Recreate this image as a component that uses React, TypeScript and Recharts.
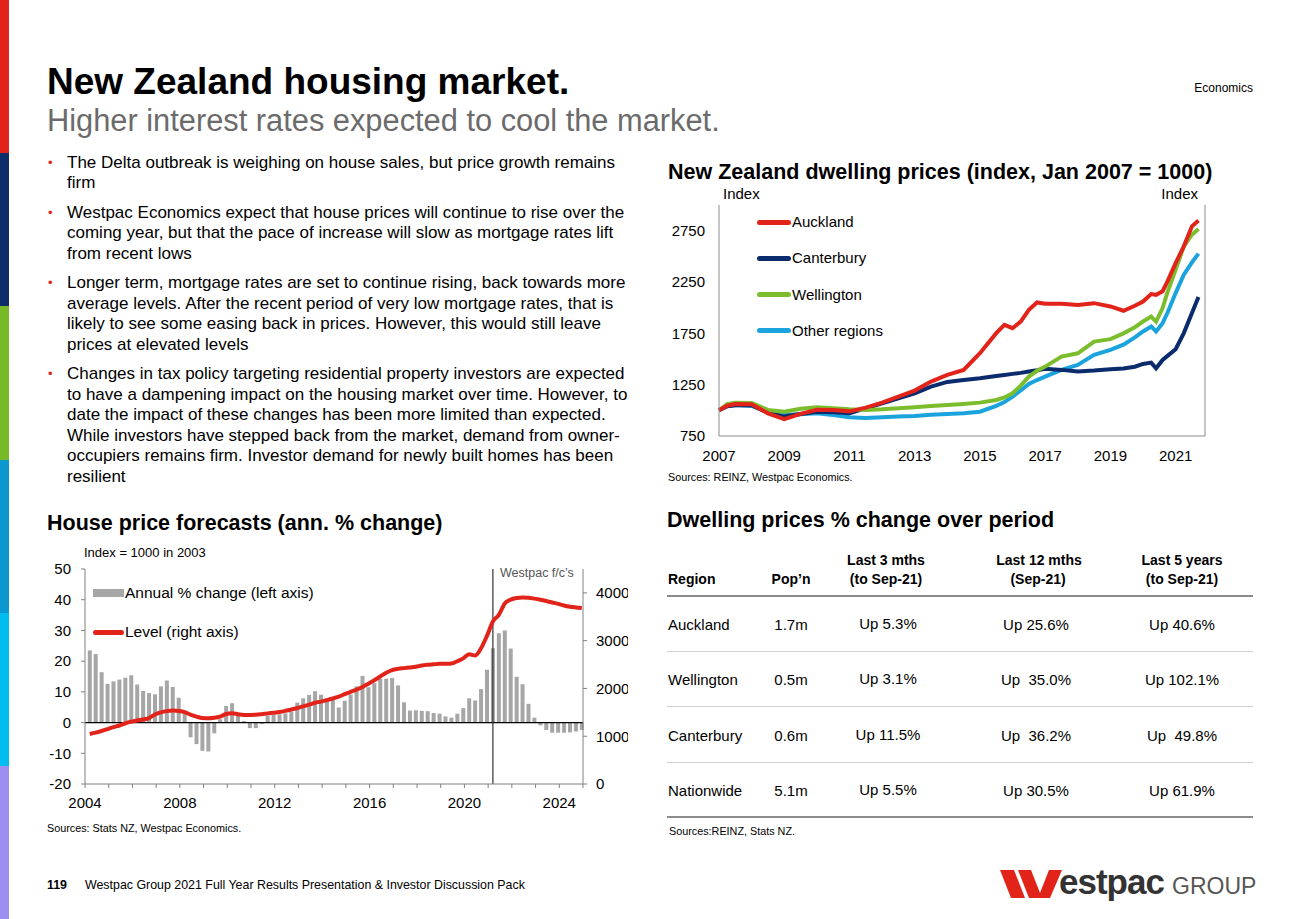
import React from 'react';
import { ComposedChart, LineChart, Line, Bar, XAxis, YAxis, ReferenceLine } from 'recharts';

const FONT = '"Liberation Sans", Arial, Helvetica, sans-serif';

// ---- side colour strip ----
const sideBarColors = ['#e2231a', '#0f2c6b', '#78b928', '#0b97cf', '#00bdf0', '#9d8ff0'];

// ---- NZ dwelling prices (index, Jan 2007 = 1000) ----
const dwellingDates = [
  2007, 2007.25, 2007.5, 2008, 2008.5, 2009, 2009.5, 2010, 2010.5, 2011, 2011.5, 2012, 2012.5,
  2013, 2013.5, 2014, 2014.5, 2015, 2015.5, 2015.75, 2016, 2016.25, 2016.5, 2016.75, 2017, 2017.5,
  2018, 2018.5, 2019, 2019.4, 2019.75, 2020, 2020.25, 2020.4, 2020.6, 2020.75, 2021, 2021.25, 2021.5, 2021.7,
];
const auckland = [
  1000, 1045, 1062, 1060, 971, 915, 965, 1005, 1004, 990, 1026, 1075, 1134,
  1192, 1280, 1345, 1394, 1556, 1752, 1833, 1800, 1865, 1979, 2051, 2038, 2038,
  2025, 2044, 2012, 1970, 2018, 2060, 2132, 2125, 2160, 2256, 2434, 2597, 2792, 2850,
];
const canterbury = [
  1000, 1040, 1049, 1049, 975, 939, 965, 985, 981, 971, 1020, 1069, 1117,
  1166, 1231, 1277, 1296, 1312, 1335, 1345, 1355, 1365, 1378, 1390, 1404, 1394,
  1378, 1387, 1400, 1408, 1425, 1452, 1465, 1410, 1491, 1530, 1595, 1752, 1947, 2103,
];
const wellington = [
  1000, 1060, 1075, 1072, 1004, 987, 1015, 1030, 1020, 1010, 1004, 1010, 1020,
  1030, 1043, 1052, 1062, 1075, 1101, 1125, 1166, 1240, 1329, 1385, 1426, 1524,
  1556, 1670, 1693, 1750, 1810, 1865, 1914, 1865, 1996, 2150, 2370, 2597, 2711, 2766,
];
const otherRegions = [
  1000, 1040, 1052, 1043, 987, 955, 963, 971, 955, 932, 926, 932, 939,
  945, 958, 965, 971, 987, 1043, 1080, 1134, 1195, 1257, 1295, 1329, 1394,
  1443, 1540, 1589, 1640, 1710, 1768, 1817, 1768, 1849, 1950, 2142, 2321, 2441, 2526,
];
const dwellingYears = [2007, 2009, 2011, 2013, 2015, 2017, 2019, 2021];
const dwellingLevels = [750, 1250, 1750, 2250, 2750];

const regionSeries = [
  { key: 'auckland', name: 'Auckland', color: '#e2231a' },
  { key: 'canterbury', name: 'Canterbury', color: '#0a2c6d' },
  { key: 'wellington', name: 'Wellington', color: '#7cbd2e' },
  { key: 'other', name: 'Other regions', color: '#1aa3dd' },
];
// drawing order (back to front)
const drawOrder = ['other', 'canterbury', 'wellington', 'auckland'];

const dwellingRows = dwellingDates.map((t, i) => ({
  t,
  auckland: auckland[i],
  canterbury: canterbury[i],
  wellington: wellington[i],
  other: otherRegions[i],
}));

// ---- House price forecasts (quarterly, 2004Q1 - 2024Q4) ----
const annualChange = [
  23.5, 22.3, 16.4, 12.6,
  13.4, 14.0, 14.6, 15.4,
  12.4, 10.3, 9.6, 9.2,
  11.8, 13.7, 11.6, 8.1,
  3.0, -4.8, -7.0, -9.2,
  -9.4, -3.5, 1.1, 5.4,
  6.3, 3.0, 0.5, -1.8,
  -1.8, -0.5, 2.3, 2.5,
  2.7, 3.0, 3.6, 6.5,
  7.9, 9.0, 10.2, 9.1,
  7.9, 7.5, 4.9, 7.1,
  9.1, 11.8, 15.2, 11.5,
  12.8, 14.2, 14.3, 14.5,
  12.1, 6.6, 3.9, 4.0,
  3.8, 3.7, 3.1, 2.9,
  2.0, 1.6, 2.9, 4.7,
  7.9, 7.2, 10.9, 17.2,
  24.2, 29.1, 30.0, 24.1,
  14.9, 12.5, 6.1, 1.6,
  -0.9, -2.4, -3.3, -3.3,
  -3.3, -3.2, -2.9, -2.4,
];
const priceLevel = [
  1048, 1075, 1110, 1150,
  1190, 1225, 1270, 1305,
  1330, 1350, 1380, 1455,
  1500, 1525, 1537, 1528,
  1505, 1450, 1410, 1380,
  1375, 1385, 1411, 1465,
  1480, 1460, 1446, 1446,
  1448, 1460, 1478, 1490,
  1505, 1530, 1560, 1590,
  1625, 1660, 1700, 1725,
  1755, 1790, 1830, 1880,
  1930, 1975, 2030, 2100,
  2170, 2250, 2330, 2385,
  2410, 2425, 2440, 2455,
  2480, 2495, 2505, 2515,
  2515, 2520, 2570, 2630,
  2718, 2690, 2840, 3100,
  3400, 3540, 3780, 3860,
  3895, 3906, 3900, 3880,
  3857, 3830, 3800, 3770,
  3735, 3710, 3695, 3683,
];
const FIRST_YEAR = 2004;
const forecastStart = 2021.2;
const forecastYears = [
  2004, 2005, 2006, 2007, 2008, 2009, 2010, 2011, 2012, 2013, 2014,
  2015, 2016, 2017, 2018, 2019, 2020, 2021, 2022, 2023, 2024, 2025,
];
const labelledYears = [2004, 2008, 2012, 2016, 2020, 2024];
const changeTicks = [-20, -10, 0, 10, 20, 30, 40, 50];
const levelTicks = [0, 1000, 2000, 3000, 4000];

const forecastRows = annualChange.map((change, i) => ({
  t: FIRST_YEAR + i / 4 + 0.2,
  change,
  level: priceLevel[i],
}));

// ---- table ----
const tableRegions = ['Auckland', 'Wellington', 'Canterbury', 'Nationwide'];
const tablePop = ['1.7m', '0.5m', '0.6m', '5.1m'];
const last3 = ['Up 5.3%', 'Up 3.1%', 'Up 11.5%', 'Up 5.5%'];
const last12 = ['Up 25.6%', 'Up  35.0%', 'Up  36.2%', 'Up 30.5%'];
const last5 = ['Up 40.6%', 'Up 102.1%', 'Up  49.8%', 'Up 61.9%'];

const bullets = [
  ['The Delta outbreak is weighing on house sales, but price growth remains', 'firm'],
  [
    'Westpac Economics expect that house prices will continue to rise over the',
    'coming year, but that the pace of increase will slow as mortgage rates lift',
    'from recent lows',
  ],
  [
    'Longer term, mortgage rates are set to continue rising, back towards more',
    'average levels. After the recent period of very low mortgage rates, that is',
    'likely to see some easing back in prices. However, this would still leave',
    'prices at elevated levels',
  ],
  [
    'Changes in tax policy targeting residential property investors are expected',
    'to have a dampening impact on the housing market over time. However, to',
    'date the impact of these changes has been more limited than expected.',
    'While investors have stepped back from the market, demand from owner-',
    'occupiers remains firm. Investor demand for newly built homes has been',
    'resilient',
  ],
];

type TxtProps = {
  x: number;
  cy: number;
  size: number;
  children: React.ReactNode;
  bold?: boolean;
  color?: string;
  align?: 'left' | 'center' | 'right';
  w?: number;
  style?: React.CSSProperties;
};

function Txt({ x, cy, size, children, bold, color = '#000', align = 'left', w = 400, style }: TxtProps) {
  const lh = Math.round(size * 1.2);
  const left = align === 'left' ? x : align === 'center' ? x - w / 2 : x - w;
  return (
    <div
      style={{
        position: 'absolute',
        left,
        top: cy - lh / 2,
        width: w,
        lineHeight: `${lh}px`,
        fontSize: size,
        fontWeight: bold ? 700 : 400,
        color,
        textAlign: align,
        whiteSpace: 'pre',
        ...style,
      }}
    >
      {children}
    </div>
  );
}

function DwellingChart() {
  const axisStroke = '#8c8c8c';
  return (
    <LineChart width={600} height={281} data={dwellingRows} margin={{ top: 20, right: 0, bottom: 0, left: 0 }}>
      <XAxis
        type="number"
        dataKey="t"
        domain={[2007, 2021.9]}
        ticks={dwellingYears}
        interval={0}
        tickLine={false}
        axisLine={{ stroke: axisStroke }}
        tick={{ fill: '#000', fontSize: 15 }}
        tickMargin={8}
        height={30}
      />
      <YAxis
        yAxisId="l"
        domain={[750, 3000]}
        ticks={dwellingLevels}
        interval={0}
        tickLine={false}
        axisLine={{ stroke: axisStroke }}
        tick={{ fill: '#000', fontSize: 15 }}
        tickMargin={8}
        width={59}
      />
      <YAxis
        yAxisId="r"
        orientation="right"
        domain={[750, 3000]}
        ticks={dwellingLevels}
        interval={0}
        tickLine={false}
        axisLine={{ stroke: axisStroke }}
        tick={{ fill: '#000', fontSize: 15, textAnchor: 'start' }}
        tickMargin={6}
        width={55}
      />
      {drawOrder.map((key) => {
        const s = regionSeries.find((r) => r.key === key)!;
        return (
          <Line
            key={key}
            yAxisId="l"
            type="linear"
            dataKey={key}
            name={s.name}
            stroke={s.color}
            strokeWidth={4}
            dot={false}
            isAnimationActive={false}
          />
        );
      })}
    </LineChart>
  );
}

function ForecastChart() {
  const axisStroke = '#808080';
  return (
    <ComposedChart width={588} height={259} data={forecastRows} margin={{ top: 14, right: 0, bottom: 0, left: 0 }}>
      <XAxis
        type="number"
        dataKey="t"
        domain={[2004, 2025]}
        ticks={forecastYears}
        interval={0}
        tickFormatter={(v: number) => (labelledYears.includes(v) ? String(v) : '')}
        tickSize={4}
        tickMargin={9}
        tickLine={{ stroke: axisStroke }}
        axisLine={{ stroke: axisStroke }}
        tick={{ fill: '#000', fontSize: 15 }}
        height={30}
      />
      <YAxis
        yAxisId="change"
        domain={[-20, 50]}
        ticks={changeTicks}
        interval={0}
        tickSize={4}
        tickMargin={10}
        tickLine={{ stroke: axisStroke }}
        axisLine={{ stroke: axisStroke }}
        tick={{ fill: '#000', fontSize: 15 }}
        width={45}
      />
      <YAxis
        yAxisId="level"
        orientation="right"
        domain={[0, 4500]}
        ticks={levelTicks}
        interval={0}
        tickSize={4}
        tickMargin={9}
        tickLine={{ stroke: axisStroke }}
        axisLine={{ stroke: axisStroke }}
        tick={{ fill: '#000', fontSize: 15 }}
        width={45}
      />
      <Bar yAxisId="change" dataKey="change" fill="#a6a6a6" barSize={4} isAnimationActive={false} />
      <ReferenceLine yAxisId="change" y={0} stroke="#000" strokeWidth={1.2} />
      <ReferenceLine yAxisId="change" x={forecastStart} stroke="#333" strokeWidth={1.2} />
      <Line
        yAxisId="level"
        type="monotone"
        dataKey="level"
        stroke="#e2231a"
        strokeWidth={4}
        dot={false}
        isAnimationActive={false}
      />
    </ComposedChart>
  );
}

export default function App() {
  const colCenters = [791, 886, 1036, 1182];
  const rowY = [625, 680, 736, 791];
  return (
    <div
      style={{
        position: 'absolute',
        left: 0,
        top: 0,
        width: 1300,
        height: 919,
        background: '#fff',
        fontFamily: FONT,
        color: '#000',
        overflow: 'hidden',
      }}
    >
      {sideBarColors.map((c, i) => (
        <div key={c} style={{ position: 'absolute', left: 0, top: i * 153.2, width: 9, height: 153.4, background: c }} />
      ))}

      {/* headings */}
      <div style={{ position: 'absolute', left: 47, top: 63, fontSize: 37, lineHeight: '37px', fontWeight: 700, whiteSpace: 'nowrap' }}>
        New Zealand housing market.
      </div>
      <div style={{ position: 'absolute', left: 47, top: 106, fontSize: 30.8, lineHeight: '30.8px', color: '#6b6b6b', whiteSpace: 'nowrap' }}>
        Higher interest rates expected to cool the market.
      </div>
      <Txt x={1253} cy={88} size={12} align="right" w={200}>Economics</Txt>

      {/* bullets */}
      <div style={{ position: 'absolute', left: 48, top: 152.75, width: 600 }}>
        {bullets.map((lines, i) => (
          <div key={i} style={{ display: 'flex', marginBottom: 9, fontSize: 17, lineHeight: '20.5px' }}>
            <div style={{ width: 19, color: '#e2231a', fontSize: 13 }}>•</div>
            <div style={{ whiteSpace: 'nowrap' }}>
              {lines.map((l, j) => (
                <div key={j}>{l}</div>
              ))}
            </div>
          </div>
        ))}
      </div>

      {/* dwelling prices chart */}
      <Txt x={668} cy={172} size={21.5} bold w={600}>New Zealand dwelling prices (index, Jan 2007 = 1000)</Txt>
      <div style={{ position: 'absolute', left: 660, top: 185 }}>
        <DwellingChart />
      </div>
      <Txt x={723} cy={194} size={15}>Index</Txt>
      <Txt x={1198} cy={194} size={15} align="right" w={100}>Index</Txt>
      {regionSeries.map((s, i) => (
        <div key={s.key} style={{ position: 'absolute', left: 757, top: 222 + i * 36.3 - 10, height: 20, display: 'flex', alignItems: 'center' }}>
          <div style={{ width: 34, height: 5, borderRadius: 3, background: s.color }} />
          <div style={{ marginLeft: 1, fontSize: 15, lineHeight: '20px' }}>{s.name}</div>
        </div>
      ))}
      <Txt x={668} cy={477} size={10.8}>Sources: REINZ, Westpac Economics.</Txt>

      {/* forecasts chart */}
      <Txt x={47} cy={523} size={21.5} bold w={500}>House price forecasts (ann. % change)</Txt>
      <div style={{ position: 'absolute', left: 40, top: 555 }}>
        <ForecastChart />
      </div>
      <Txt x={84} cy={553} size={13}>Index = 1000 in 2003</Txt>
      <Txt x={500} cy={573} size={12.5} color="#555">Westpac f/c’s</Txt>
      <div style={{ position: 'absolute', left: 93, top: 583, height: 20, display: 'flex', alignItems: 'center' }}>
        <div style={{ width: 31, height: 8, background: '#a6a6a6' }} />
        <div style={{ marginLeft: 1, fontSize: 15.5, lineHeight: '20px' }}>Annual % change (left axis)</div>
      </div>
      <div style={{ position: 'absolute', left: 93, top: 622, height: 20, display: 'flex', alignItems: 'center' }}>
        <div style={{ width: 31, height: 5, borderRadius: 3, background: '#e2231a' }} />
        <div style={{ marginLeft: 1, fontSize: 15.5, lineHeight: '20px' }}>Level (right axis)</div>
      </div>
      <Txt x={47} cy={828} size={10.8}>Sources: Stats NZ, Westpac Economics.</Txt>

      {/* table */}
      <Txt x={667} cy={520} size={21.5} bold w={500}>Dwelling prices % change over period</Txt>
      <Txt x={668} cy={579} size={14} bold>Region</Txt>
      <Txt x={colCenters[0]} cy={579} size={14} bold align="center" w={120}>Pop’n</Txt>
      <Txt x={colCenters[1]} cy={560} size={14} bold align="center" w={160}>Last 3 mths</Txt>
      <Txt x={colCenters[1]} cy={579} size={14} bold align="center" w={160}>(to Sep-21)</Txt>
      <Txt x={colCenters[2] + 3} cy={560} size={14} bold align="center" w={160}>Last 12 mths</Txt>
      <Txt x={colCenters[2] + 2} cy={579} size={14} bold align="center" w={160}>(Sep-21)</Txt>
      <Txt x={colCenters[3]} cy={560} size={14} bold align="center" w={160}>Last 5 years</Txt>
      <Txt x={colCenters[3]} cy={579} size={14} bold align="center" w={160}>(to Sep-21)</Txt>
      <div style={{ position: 'absolute', left: 667, top: 595, width: 586, height: 2, background: '#8c8c8c' }} />
      {tableRegions.map((r, i) => (
        <React.Fragment key={r}>
          <Txt x={668} cy={rowY[i]} size={15}>{r}</Txt>
          <Txt x={colCenters[0]} cy={rowY[i]} size={15} align="center" w={120}>{tablePop[i]}</Txt>
          <Txt x={colCenters[1] + 2} cy={rowY[i] - 1} size={15} align="center" w={160}>{last3[i]}</Txt>
          <Txt x={colCenters[2]} cy={rowY[i]} size={15} align="center" w={160}>{last12[i]}</Txt>
          <Txt x={colCenters[3]} cy={rowY[i]} size={15} align="center" w={160}>{last5[i]}</Txt>
          {i < tableRegions.length - 1 ? (
            <div style={{ position: 'absolute', left: 667, top: rowY[i] + 26, width: 586, height: 1, background: '#d0d0d0' }} />
          ) : null}
        </React.Fragment>
      ))}
      <div style={{ position: 'absolute', left: 667, top: 816, width: 586, height: 2, background: '#8c8c8c' }} />
      <Txt x={669} cy={831} size={10.8}>Sources:REINZ, Stats NZ.</Txt>

      {/* footer */}
      <Txt x={47} cy={885} size={12.4} bold>119</Txt>
      <Txt x={85} cy={885} size={12.4} w={600}>Westpac Group 2021 Full Year Results Presentation &amp; Investor Discussion Pack</Txt>
      <svg style={{ position: 'absolute', left: 1000, top: 870 }} width={62} height={28} viewBox="0 0 62 28">
        <polygon points="0,0 14,0 25,28 11,28" fill="#e2231a" />
        <polygon points="18,0 31,0 42,28 29,28" fill="#e2231a" />
        <polygon points="38,28 50,28 62,0 49,0" fill="#e2231a" />
      </svg>
      <div style={{ position: 'absolute', left: 1059, top: 862, fontSize: 35, lineHeight: '40px', fontWeight: 700, color: '#333', letterSpacing: -1, whiteSpace: 'nowrap' }}>
        estpac
      </div>
      <div style={{ position: 'absolute', left: 1172, top: 872, fontSize: 23, lineHeight: '28px', color: '#555', whiteSpace: 'nowrap' }}>
        GROUP
      </div>
    </div>
  );
}
